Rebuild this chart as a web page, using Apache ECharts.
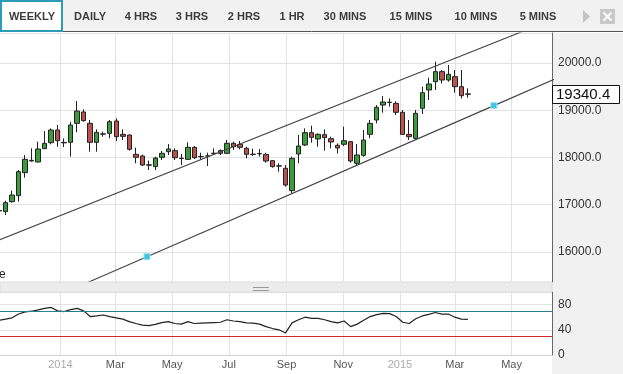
<!DOCTYPE html>
<html>
<head>
<meta charset="utf-8">
<script src="https://cdn.jsdelivr.net/npm/echarts@6/dist/echarts.min.js"></script>
<style>
html,body{margin:0;padding:0;background:#fff;}
#c{width:623px;height:374px;}
</style>
</head>
<body>
<div id="c"></div>
<script>
// ---------- DATA ----------
const tabLabels = ['WEEKLY','DAILY','4 HRS','3 HRS','2 HRS','1 HR','30 MINS','15 MINS','10 MINS','5 MINS'];
const dates = [
'2013-10-27','2013-11-03','2013-11-10','2013-11-17','2013-11-24','2013-12-01','2013-12-08','2013-12-15','2013-12-22','2013-12-29',
'2014-01-05','2014-01-12','2014-01-19','2014-01-26','2014-02-02','2014-02-09','2014-02-16','2014-02-23','2014-03-02','2014-03-09',
'2014-03-16','2014-03-23','2014-03-30','2014-04-06','2014-04-13','2014-04-20','2014-04-27','2014-05-04','2014-05-11','2014-05-18',
'2014-05-25','2014-06-01','2014-06-08','2014-06-15','2014-06-22','2014-06-29','2014-07-06','2014-07-13','2014-07-20','2014-07-27',
'2014-08-03','2014-08-10','2014-08-17','2014-08-24','2014-08-31','2014-09-07','2014-09-14','2014-09-21','2014-09-28','2014-10-05',
'2014-10-12','2014-10-19','2014-10-26','2014-11-02','2014-11-09','2014-11-16','2014-11-23','2014-11-30','2014-12-07','2014-12-14',
'2014-12-21','2014-12-28','2015-01-04','2015-01-11','2015-01-18','2015-01-25','2015-02-01','2015-02-08','2015-02-15','2015-02-22',
'2015-03-01','2015-03-08','2015-03-15'];
const opens = [16880,16854,17065,17192,17679,17940,17905,18187,18314,18582,
18320,18321,18723,18963,18723,18321,18500,18511,18772,18490,
18476,18067,18032,17845,17807,18004,18123,18145,17985,17961,
18215,18022,18035,18085,18145,18088,18300,18279,18194,18070,
18083,18067,17933,17823,17771,17298,18074,18265,18526,18392,
18483,18399,18258,18279,18335,17877,18046,18490,18794,19111,
19170,19146,18956,18490,18406,19041,19429,19605,19817,19640,
19711,19499,19345];
const highs = [16920,17086,17298,17735,18053,18194,18335,18561,18617,18688,
18406,18758,19196,19019,18794,18596,18547,18794,18829,18596,
18490,18208,18060,17933,18018,18138,18286,18194,18074,18321,
18243,18102,18102,18194,18173,18370,18335,18349,18229,18187,
18180,18102,17947,17877,17841,18018,18476,18617,18674,18511,
18596,18441,18300,18653,18349,18286,18582,18794,19111,19302,
19252,19189,19005,18794,19005,19499,19690,20028,19852,19958,
19852,19852,19464];
const lows = [16840,16783,17044,17065,17573,17912,17898,18180,18279,18229,
18222,18018,18533,18758,18123,18123,18441,18406,18349,18370,
18145,17877,17820,17735,17735,17947,18053,17947,17841,17947,
17968,17947,17820,18053,18053,18074,18159,18173,17982,18032,
18018,17891,17785,17700,17383,17242,17877,18243,18314,18229,
18145,18194,18088,18243,17891,17841,18018,18406,18723,18949,
19076,18899,18476,18370,18370,18921,19217,19429,19570,19605,
19372,19252,19266];
const closes = [16870,17044,17206,17700,17961,17926,18180,18300,18582,18356,
18310,18688,18984,18780,18321,18533,18494,18758,18441,18448,
18173,18004,17841,17838,17989,18088,18180,17996,17979,18215,
17996,18015,18030,18090,18088,18300,18229,18215,18067,18065,
18078,17926,17807,17818,17418,17982,18243,18526,18427,18490,
18420,18328,18201,18356,17926,18053,18370,18723,19062,19175,
19165,18956,18490,18441,18935,19372,19556,19817,19640,19760,
19499,19309,19340.4];
const rsiValues = [55,57,59,65,68.5,69.5,71.5,74,75.5,70,
69,72,74,70,61,62,63.5,61,59,57,
53,50,47.5,46.5,48.5,51.5,53,50,49,53,
50,50.5,51,51.5,52,56,54,53,51,50.5,
49,45,42,40,35,51,56,60,58,58,
56,53,51,54,45,49,55,61,64,66,
65.6,61,52,50,57.5,62,64.5,67.5,65,65,
60,57,56.5];
const rsiLevels = [70, 30];
const tickDates = ['2014-01-01','2014-03-01','2014-05-01','2014-07-01','2014-09-01','2014-11-01','2015-01-01','2015-03-01','2015-05-01'];
const tickLabels = ['2014','Mar','May','Jul','Sep','Nov','2015','Mar','May'];
const upperLineDates = ['2013-10-01','2015-07-01'];
const upperLinePrices = [16052, 21054];
const lowerLineDates = ['2013-12-01','2014-04-04','2015-04-12','2015-06-30'];
const lowerLinePrices = [14838, 15901, 19098, 19775];
const lowerLineAnchors = [false, true, true, false];
const xRange = ['2013-10-28','2015-06-13'];
const priceRange = [15365, 20635];

// ---------- BUILD ----------
function ts(s){ const p = s.split('-').map(Number); return Date.UTC(p[0], p[1]-1, p[2]); }
const FONT = '"Liberation Sans", Arial, sans-serif';
const candleData = dates.map((d,i)=>[ts(d), opens[i], closes[i], lows[i], highs[i]]);
const rsiData = dates.map((d,i)=>[ts(d), rsiValues[i]]);
const tickTs = tickDates.map(ts);
const upperData = upperLineDates.map((d,i)=>[ts(d), upperLinePrices[i]]);
const lowerData = lowerLineDates.map((d,i)=> lowerLineAnchors[i]
  ? {value:[ts(d), lowerLinePrices[i]], symbol:'rect', symbolSize:6, itemStyle:{color:'#3cc3df', borderColor:'#9fe3f0', borderWidth:1}}
  : {value:[ts(d), lowerLinePrices[i]], symbol:'none'});

const gridColor = '#e2e2e2';
function labelFor(v){
  const k = tickTs.indexOf(v);
  if (k < 0) return '';
  return /^\d{4}$/.test(tickLabels[k]) ? '{yr|'+tickLabels[k]+'}' : tickLabels[k];
}
function xAxisBase(gi, showLabels){
  return {
    type:'value', gridIndex:gi, min:ts(xRange[0]), max:ts(xRange[1]) + 12*3600*1000,
    axisLine:{show:showLabels, onZero:false, lineStyle:{color:'#d0d0d0'}},
    axisTick:{show:false, customValues:tickTs},
    axisLabel:{show:showLabels, customValues:tickTs, fontFamily:FONT, fontSize:11, color:'#555', margin:4,
      formatter:labelFor,
      rich:{yr:{color:'#aaaaaa', fontFamily:FONT, fontSize:11}}},
    splitLine:{show:true, lineStyle:{color:gridColor, width:1}}
  };
}

const chart = echarts.init(document.getElementById('c'), null, {renderer:'canvas'});

const graphics = [
  {type:'rect', shape:{x:552, y:33, width:71, height:341}, style:{fill:'#f1f1f1'}, z:-10, silent:true},
  {type:'rect', shape:{x:0, y:0, width:623, height:32}, style:{fill:'#f1f1f1'}, z:-10, silent:true},
  {type:'line', shape:{x1:0, y1:31.5, x2:623, y2:31.5}, style:{stroke:'#555', lineWidth:1}, z:5, silent:true},
  {type:'rect', shape:{x:1, y:1, width:61, height:30}, style:{fill:'#ffffff', stroke:'#2c9bb8', lineWidth:2}, z:6, silent:true},
  {type:'rect', shape:{x:0, y:282, width:552, height:10}, style:{fill:'#ececec', stroke:'#dddddd', lineWidth:1}, z:5, silent:true},
  {type:'line', shape:{x1:253, y1:287.5, x2:269, y2:287.5}, style:{stroke:'#999', lineWidth:1}, z:6, silent:true},
  {type:'line', shape:{x1:253, y1:290.5, x2:269, y2:290.5}, style:{stroke:'#999', lineWidth:1}, z:6, silent:true},
  {type:'polygon', shape:{points:[[583,10],[590,16.5],[583,23]]}, style:{fill:'#c4c4c4'}, z:6, silent:true},
  {type:'rect', shape:{x:600, y:9, width:15, height:15}, style:{fill:'#c8c8c8'}, z:6, silent:true},
  {type:'line', shape:{x1:603.5, y1:12.5, x2:611.5, y2:20.5}, style:{stroke:'#fff', lineWidth:2}, z:7, silent:true},
  {type:'line', shape:{x1:611.5, y1:12.5, x2:603.5, y2:20.5}, style:{stroke:'#fff', lineWidth:2}, z:7, silent:true},
  {type:'text', x:-1, y:269, style:{text:'e', fontFamily:FONT, fontSize:12, fill:'#222'}, z:6, silent:true}
];
const tabCenters = [32, 90, 141, 192, 244, 292, 345, 411, 476, 538];
tabLabels.forEach((t,i)=>{
  graphics.push({type:'text', x:tabCenters[i], y:17, style:{text:t, fontFamily:FONT, fontSize:11, fontWeight:'bold', fill:'#3c3c3c', align:'center', verticalAlign:'middle'}, z:8, silent:true});
});

chart.setOption({
  animation:false,
  backgroundColor:'#ffffff',
  grid:[
    {left:0, right:71, top:33, height:249},
    {left:0, right:71, top:292, height:63}
  ],
  xAxis:[ xAxisBase(0,false), xAxisBase(1,true) ],
  yAxis:[
    {type:'value', gridIndex:0, position:'right', min:priceRange[0], max:priceRange[1], splitNumber:5,
     axisLine:{show:true, lineStyle:{color:'#666'}}, axisTick:{show:false},
     axisLabel:{formatter:v=>v.toFixed(1), fontFamily:FONT, fontSize:12, color:'#333', margin:6, showMinLabel:false, showMaxLabel:false},
     splitLine:{lineStyle:{color:gridColor}}},
    {type:'value', gridIndex:1, position:'right', min:0, max:100, interval:40,
     axisLine:{show:true, lineStyle:{color:'#666'}}, axisTick:{show:false},
     axisLabel:{fontFamily:FONT, fontSize:12, color:'#333', margin:6, showMaxLabel:false},
     splitLine:{lineStyle:{color:gridColor}}}
  ],
  series:[
    {type:'candlestick', xAxisIndex:0, yAxisIndex:0, data:candleData, barWidth:5, clip:true,
     itemStyle:{color:'#3d9a3d', color0:'#b9524e', borderColor:'#222', borderColor0:'#222', borderWidth:1}},
    {type:'line', xAxisIndex:0, yAxisIndex:0, data:upperData, symbol:'none', clip:true, silent:true,
     lineStyle:{color:'#444', width:1.1}},
    {type:'line', xAxisIndex:0, yAxisIndex:0, data:lowerData, showSymbol:true, clip:true, silent:true, z:3,
     lineStyle:{color:'#444', width:1.1}},
    {type:'line', xAxisIndex:1, yAxisIndex:1, data:rsiData, symbol:'none', clip:true, silent:true,
     lineStyle:{color:'#222', width:1.2},
     markLine:{silent:true, symbol:'none', label:{show:false},
       data:[{yAxis:rsiLevels[0], lineStyle:{color:'#2a7f8f', width:1.2, type:'solid'}},
             {yAxis:rsiLevels[1], lineStyle:{color:'#d12a2a', width:1.2, type:'solid'}}]}}
  ],
  graphic: graphics
});

const lastClose = closes[closes.length-1];
const yPix = chart.convertToPixel({yAxisIndex:0}, lastClose);
graphics.push({type:'rect', shape:{x:552.5, y:Math.round(yPix)-8.5, width:67, height:18}, style:{fill:'#fff', stroke:'#111', lineWidth:1}, z:20, silent:true});
graphics.push({type:'text', x:556, y:Math.round(yPix)+0.5, style:{text:lastClose.toFixed(1), fontFamily:FONT, fontSize:15, fill:'#111', verticalAlign:'middle'}, z:21, silent:true});
chart.setOption({graphic: graphics});
</script>
</body>
</html>
